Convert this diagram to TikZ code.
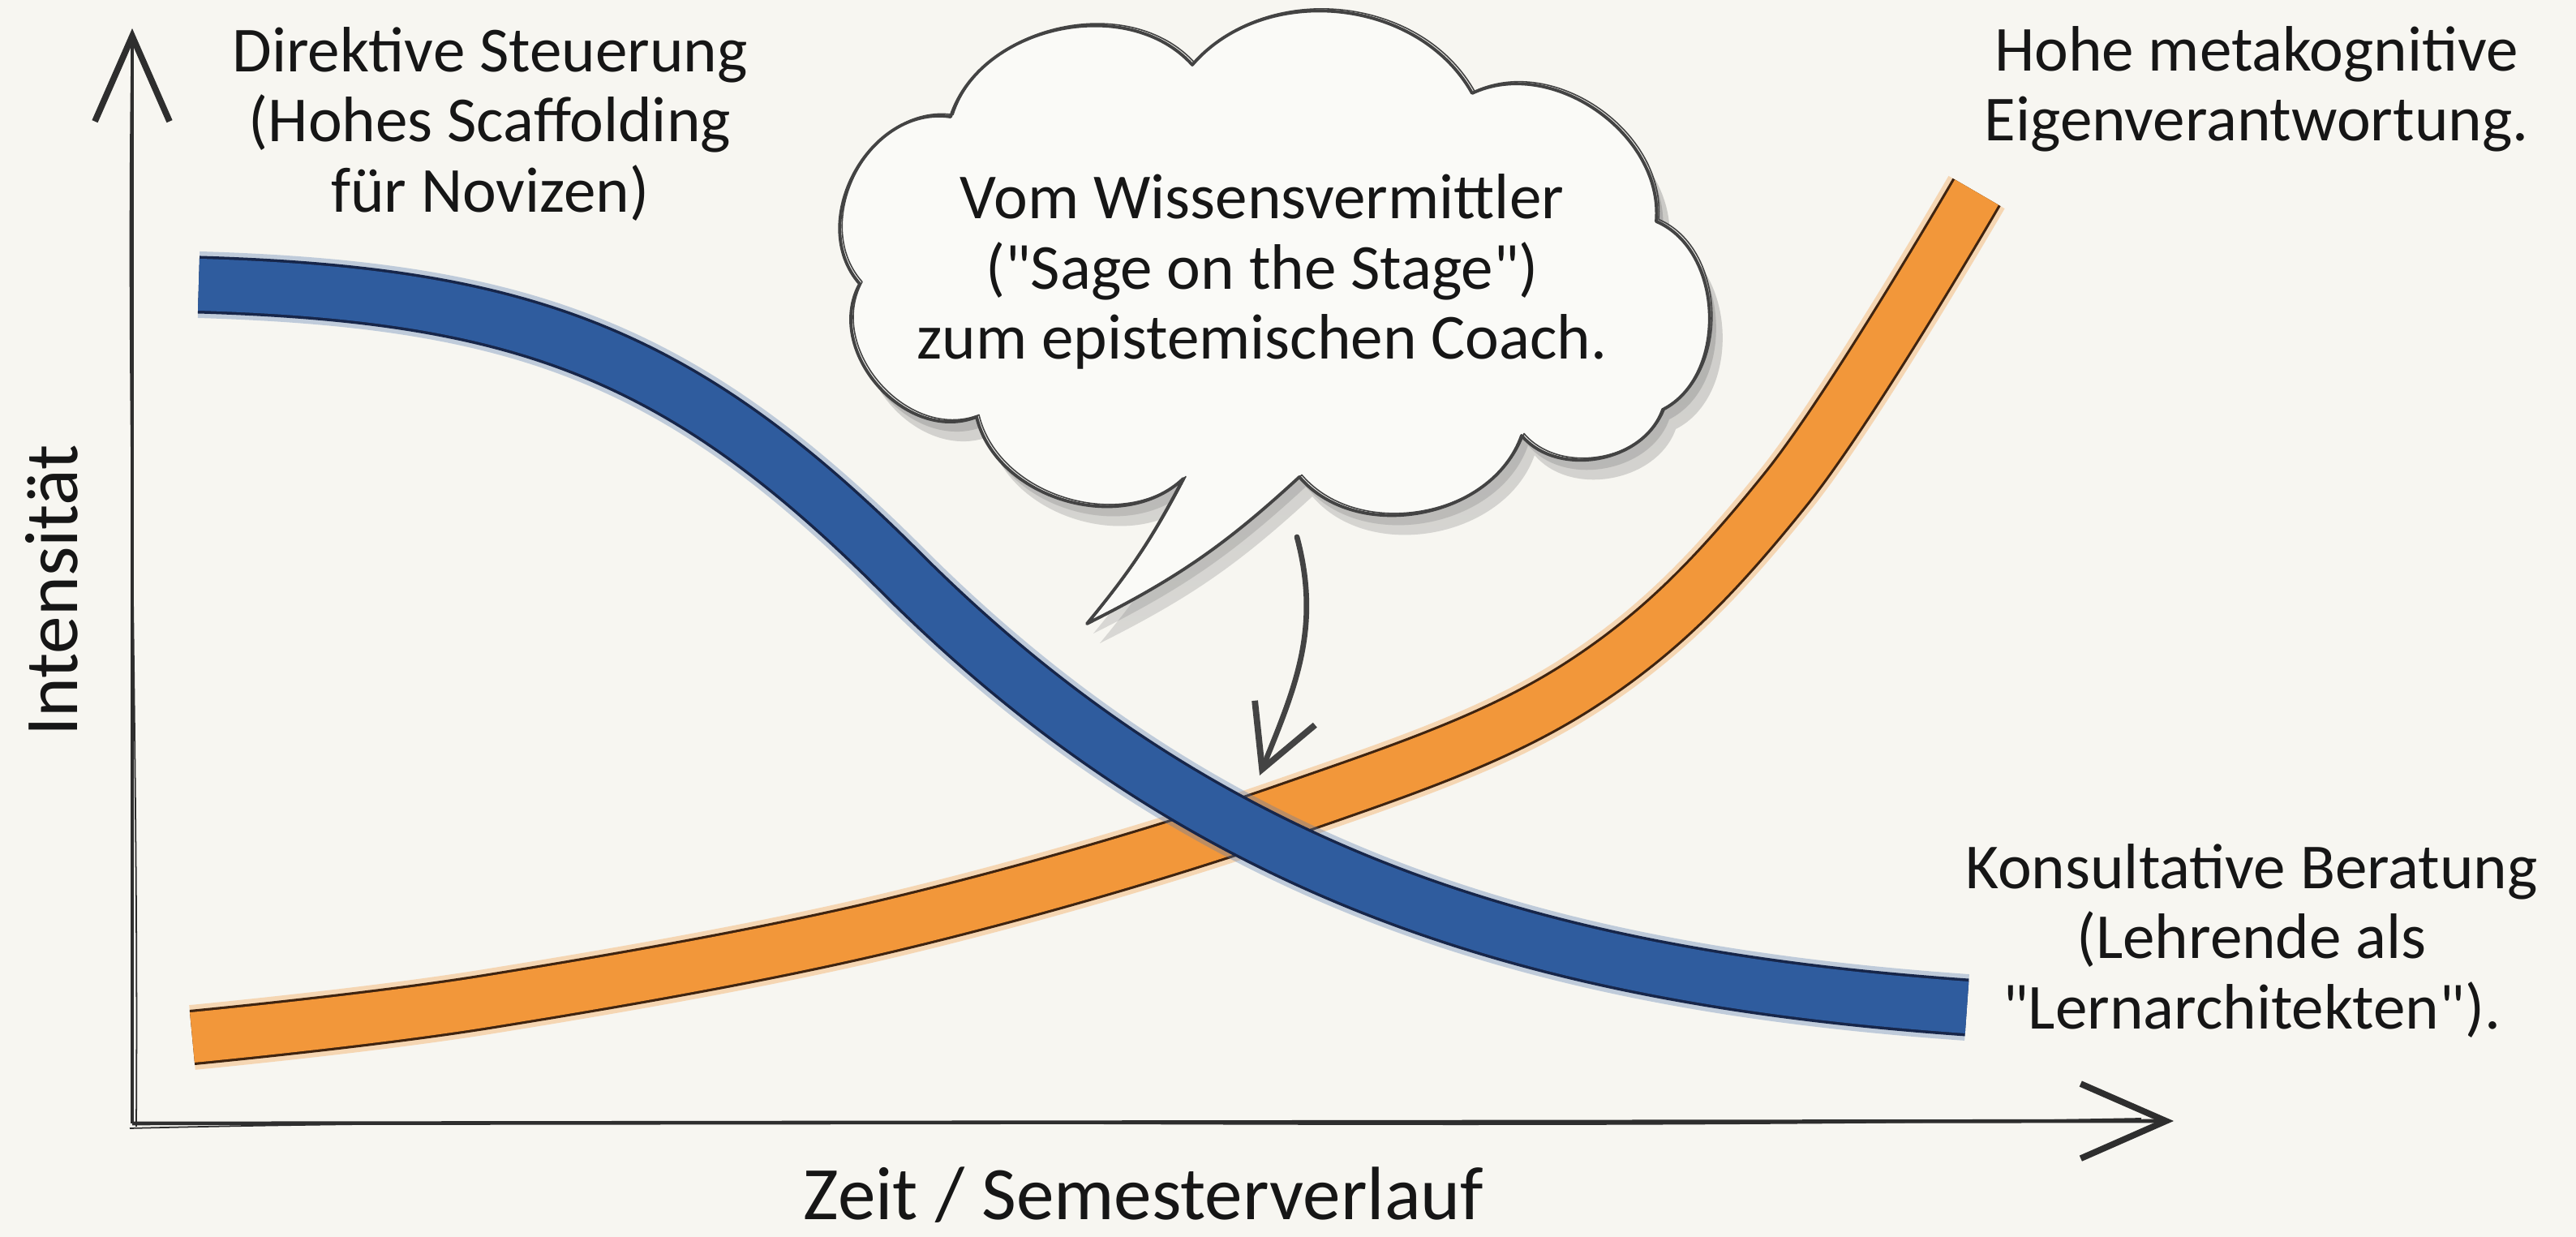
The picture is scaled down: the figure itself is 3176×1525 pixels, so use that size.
\documentclass[tikz,border=0pt]{standalone}
\usepackage{fontspec}
\newfontfamily\handfont{Carlito}
\usetikzlibrary{arrows.meta}

\definecolor{paper}{HTML}{F7F6F1}
\definecolor{ink}{HTML}{161616}
\definecolor{pencil}{HTML}{2E2E2E}
\definecolor{washblue}{HTML}{2F5C9E}
\definecolor{edgeblue}{HTML}{17264A}
\definecolor{washorange}{HTML}{F2973A}
\definecolor{edgeorange}{HTML}{3F2410}
\definecolor{shade}{HTML}{8A8A8A}

\newcommand\bubbleoutline{(1172,1381) to[bend left=60] (1470,1445)
  to[bend left=55] (1815,1410) to[bend left=60] (2042,1252)
  to[bend left=65] (2050,1020) to[bend left=60] (1876,988)
  to[bend left=60] (1602,937) to[bend left=8] (1340,756)
  to[bend right=6] (1459,935) to[bend left=60] (1204,1011)
  to[bend left=70,looseness=1.1] (1060,1175)
  to[bend left=70,looseness=1.1] (1172,1381) -- cycle}

\tikzset{
  note/.style={font=\handfont\fontsize{22.5}{24.5}\selectfont, align=center, text=ink, inner sep=0pt},
  axistext/.style={font=\handfont\fontsize{26.5}{30}\selectfont, text=ink, inner sep=0pt},
  axisline/.style={draw=pencil, line width=1.3pt, -{Straight Barb[length=1.05cm,width=.92cm,line width=2.2pt]}},
  sketchline/.style={draw=pencil, line width=.5pt},
  orangewash/.style={draw=washorange!85, line width=.8cm, opacity=.4},
  orangeband/.style={draw=edgeorange, line width=.9pt, double=washorange, double distance=.62cm},
  bluewash/.style={draw=washblue!80, line width=.82cm, opacity=.35},
  blueband/.style={draw=edgeblue, line width=1pt, double=washblue, double distance=.64cm},
  bubbleline/.style={draw=pencil!90, line width=1.1pt, line join=round},
  pointer/.style={draw=pencil!90, line width=1.9pt, line cap=round, -{Straight Barb[length=.75cm,width=.8cm,line width=2.2pt]}},
}

\begin{document}
\begin{tikzpicture}[x=.01cm, y=.01cm]
  \useasboundingbox (0,0) rectangle (3176,1525);
  \fill[paper] (0,0) rectangle (3176,1525);

  \coordinate (origin) at (163,140);
  \coordinate (ytip) at (163,1490);
  \coordinate (xtip) at (2680,143);
  \draw[sketchline] (168,136) .. controls (171,600) and (156,1000) .. (162,1440);
  \draw[sketchline] (160,134) .. controls (900,152) and (1700,128) .. (2640,146);
  \draw[axisline] (origin) -- (ytip);
  \draw[axisline] (origin) -- (xtip);

  \node[axistext, rotate=90] (intensity) at (64,797) {Intensität};
  \node[axistext] (timeaxis) at (1410,52) {Zeit / Semesterverlauf};

  \foreach \layer in {orangewash,orangeband}
    \draw[\layer] plot[smooth, tension=.6] coordinates {(237,246) (600,290)
      (1100,385) (1583,525) (1946,679) (2201,921) (2437,1288)};
  \foreach \layer in {bluewash,blueband}
    \draw[\layer] (245,1174) .. controls (645,1162) and (840,1090) .. (1110,820)
      .. controls (1490,440) and (1900,320) .. (2425,283);

  \fill[shade, opacity=.15, xshift=.08cm, yshift=-.12cm] \bubbleoutline;
  \fill[shade, opacity=.15, xshift=.16cm, yshift=-.24cm] \bubbleoutline;
  \fill[paper!60!white] \bubbleoutline;
  \draw[bubbleline] \bubbleoutline;
  \draw[bubbleline, line width=.45pt, xshift=.03cm, yshift=.025cm] \bubbleoutline;

  \node[note] (bubble) at (1556,1190)
    {Vom Wissensvermittler\\("Sage on the Stage")\\zum epistemischen Coach.};

  \coordinate (tailfoot) at (1599,863);
  \coordinate (crossing) at (1553,569);
  \draw[pointer] (tailfoot) to[out=-75, in=68] (crossing);

  \node[note] (directive) at (604,1372)
    {Direktive Steuerung\\(Hohes Scaffolding\\für Novizen)};
  \node[note] (metacog) at (2782,1415)
    {Hohe metakognitive\\Eigenverantwortung.};
  \node[note] (consult) at (2776,365)
    {Konsultative Beratung\\(Lehrende als\\"Lernarchitekten").};
\end{tikzpicture}
\end{document}
